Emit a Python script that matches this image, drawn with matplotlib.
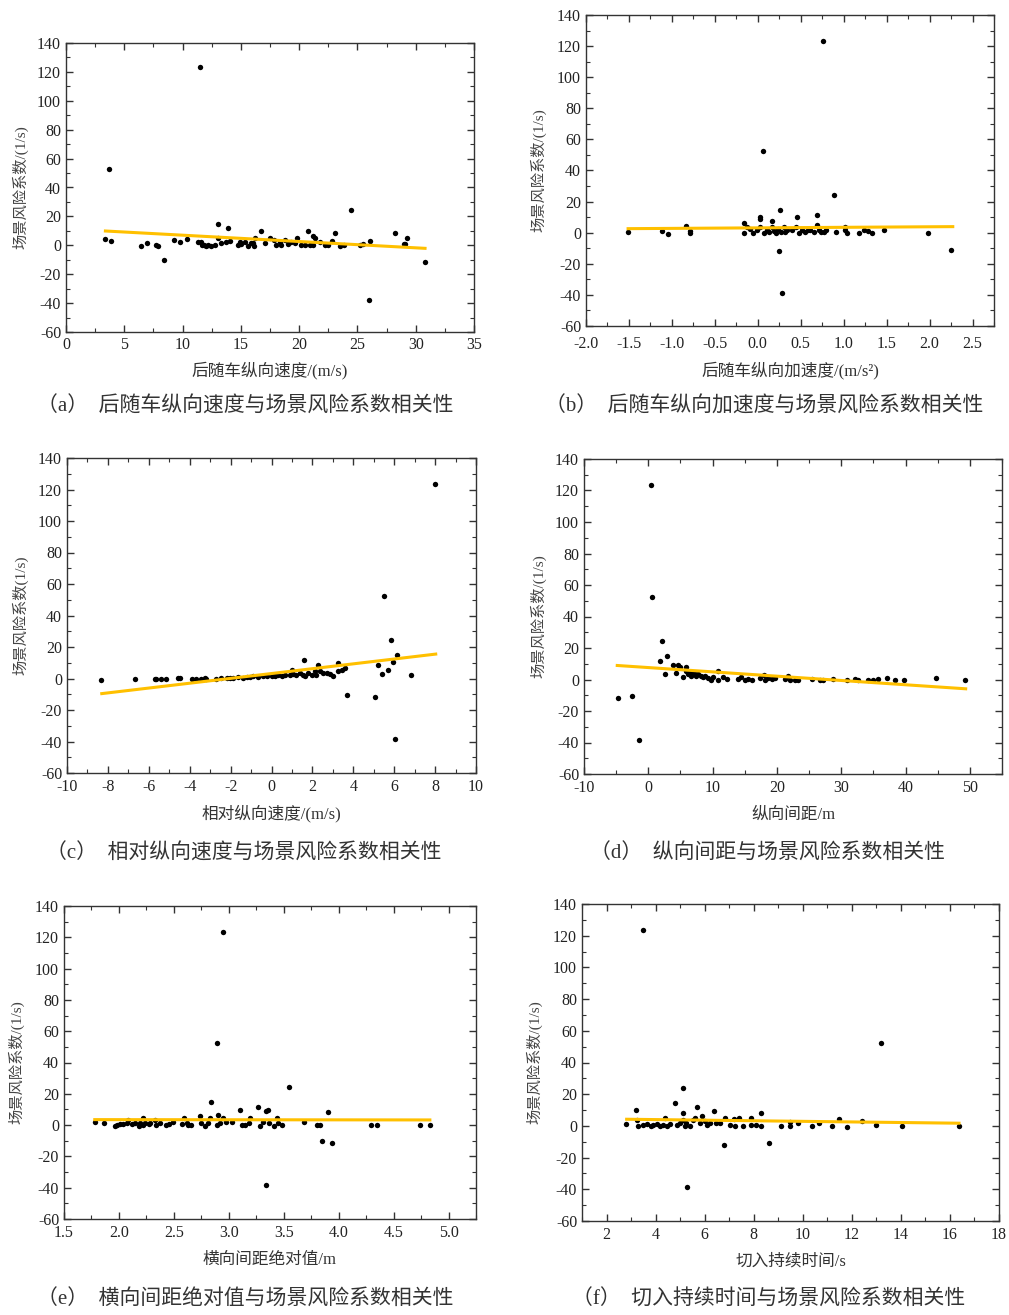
import matplotlib
matplotlib.use('Agg')
import matplotlib.pyplot as plt
from matplotlib.ticker import MultipleLocator

plt.rcParams['font.family'] = ['Liberation Serif', 'Noto Sans CJK SC']
plt.rcParams['axes.unicode_minus'] = False

# (a) 后随车纵向速度
xa = [3.38, 3.87, 3.7, 6.44, 6.92, 7.76, 7.87, 8.42, 9.3, 9.82, 10.4,
      11.3, 11.54, 11.5, 11.66, 11.8, 12.03, 12.2, 12.46, 12.75, 13.0, 13.03, 13.32, 13.75, 13.86, 14.03,
      14.75, 15.04, 14.9, 15.32, 15.61, 15.9, 16.18, 16.13, 16.0, 16.76,
      17.1, 17.47, 17.85, 18.05, 18.33, 18.48, 18.76, 19.05, 19.33, 19.62, 19.82, 20.2, 20.48, 20.77,
      20.9, 21.2, 21.34, 21.2, 21.77, 22.2, 22.49, 22.83, 23.06, 23.49, 23.86, 24.41, 25.21, 25.5,
      26.0, 26.1, 28.2, 29.08, 29.22, 29.0, 30.8]
ya = [4.1, 2.7, 52.5, -0.3, 1.4, 0.2, -0.5, -10.4, 3.7, 2.1, 4.6,
      2.5, 2.5, 123.5, 0.2, 0.5, -0.3, 0.3, -0.3, 0.2, 15.0, 4.8, 1.4, 2.05, 11.9, 3.0,
      0.2, 0.7, 2.0, 2.5, -0.3, 1.4, 4.8, -0.3, 1.8, 10.1,
      1.35, 4.8, 3.65, 0.2, 2.5, 0.2, 3.65, 0.66, 2.5, 1.35, 4.8, 0.2, 0.2, 9.9,
      0.3, 6.4, 4.8, 0.4, 2.5, 0.2, 0.2, 2.96, 8.3, -0.3, 0.2, 24.4, 0.2, 0.9,
      -37.8, 2.7, 8.3, 0.9, 5.3, 1.2, -11.3]
fit_ax = [3.38, 30.8]
fit_ay = [9.9, -2.1]

# (b) 后随车纵向加速度
xb = [-1.51, -1.12, -1.05, -0.83, -0.79, -0.79, -0.16, -0.16, -0.12, -0.09, -0.05, -0.01,
      0.03, 0.03, 0.03, 0.06, 0.07, 0.11, 0.13, 0.16, 0.17, 0.19, 0.21, 0.23, 0.26, 0.25, 0.28,
      0.27, 0.30, 0.32, 0.34, 0.40, 0.44, 0.46, 0.48, 0.52, 0.55, 0.58, 0.61, 0.65, 0.69, 0.69,
      0.71, 0.74, 0.76, 0.77, 0.79, 0.89, 0.91, 1.02, 1.02, 1.04, 1.18, 1.24, 1.28, 1.33, 1.47,
      1.98, 2.25]
yb = [0.2, 1.3, -0.6, 4.5, 1.3, -0.4, 6.4, -0.4, 3.9, 2.1, 0.0, 1.7,
      3.9, 8.6, 9.9, 52.3, 0.0, 1.7, 0.3, 7.7, 3.9, 1.0, 0.0, 2.1, 14.6, -12.0, -38.6,
      0.5, 3.9, 0.2, 1.7, 1.7, 3.9, 9.9, -0.4, 1.7, 0.4, 1.7, 1.7, 0.6, 11.4, 4.9,
      1.7, 0.3, 123.3, 0.6, 1.5, 24.0, 0.6, 3.9, 1.5, 0.0, 0.0, 1.7, 1.3, -0.4, 1.7,
      0.0, -11.0]
fit_bx = [-1.51, 2.27]
fit_by = [2.6, 3.9]

# (c) 相对纵向速度
xc = [-8.32, -6.69, -5.71, -5.63, -5.38, -5.14, -4.57, -4.49, -3.87, -3.67, -3.43, -3.26, -3.18,
      -2.69, -2.45, -2.2, -2.04, -1.88, -1.63, -1.39, -1.22, -1.06, -0.9, -0.65, -0.41, -0.24,
      0.0, 0.16, 0.33, 0.49, 0.65, 0.9, 0.98, 1.06, 1.22, 1.39, 1.55, 1.63, 1.58, 1.79, 1.96,
      2.12, 2.2, 2.28, 2.37, 2.53, 2.69, 2.85, 3.02, 3.23, 3.26, 3.43, 3.59, 3.67, 5.06, 5.22,
      5.42, 5.5, 5.68, 5.84, 5.92, 6.04, 6.15, 6.8, 7.99]
yc = [-0.9, -0.2, -0.2, -0.2, -0.4, 0.0, 0.2, 0.2, 0.0, 0.0, 0.0, 0.2, 0.0,
      0.0, 0.2, 0.4, 0.4, 0.2, 0.85, 0.4, 0.85, 0.85, 1.3, 0.85, 1.3, 1.7,
      1.3, 1.7, 2.1, 1.7, 2.1, 2.3, 5.1, 3.0, 2.3, 3.4, 2.3, 1.3, 11.9, 3.4, 2.3,
      4.5, 2.3, 8.3, 4.5, 3.4, 3.4, 3.0, 1.7, 9.8, 4.5, 5.5, 6.6, -10.4, -11.5, 8.5,
      3.0, 52.6, 5.5, 24.7, 10.2, -38.1, 15.1, 2.3, 123.4]
fit_cx = [-8.3, 8.03]
fit_cy = [-9.6, 15.5]

# (d) 纵向间距
xd = [-4.78, -2.55, -1.51, 0.36, 0.57, 1.82, 2.18, 2.55, 2.96, 3.84, 4.36, 4.62, 4.88, 5.4, 5.82,
      5.92, 6.18, 6.44, 6.7, 6.96, 7.22, 7.48, 7.74, 8.26, 8.52, 8.78, 9.3, 9.82, 10.08, 10.86,
      10.86, 11.64, 12.16, 13.97, 14.49, 15.01, 15.53, 16.05, 17.35, 18.03, 18.13, 18.65, 19.17,
      19.69, 21.25, 21.77, 22.03, 22.81, 23.32, 25.4, 26.7, 27.22, 28.78, 30.86, 32.16, 32.68,
      34.23, 35.01, 35.69, 37.19, 38.39, 39.79, 44.73, 49.19]
yd = [-11.6, -10.6, -38.1, 123.4, 52.5, 11.6, 24.3, 3.6, 14.8, 9.5, 4.2, 9.5, 8.0, 1.5, 8.0,
      5.3, 3.2, 4.2, 2.5, 3.2, 3.8, 2.1, 3.2, 2.1, 1.5, 2.1, 1.1, 0.0, 1.5, 5.3,
      0.0, 1.5, 0.6, 0.4, 1.5, 0.0, 0.4, 0.0, 1.1, 3.0, 0.0, 1.1, 0.4,
      1.1, 0.4, 2.5, -0.4, 0.0, 0.0, 0.6, 0.0, 0.0, 0.4, 0.0, 0.6, 0.0,
      0.0, 0.0, 0.6, 0.8, 0.0, 0.0, 0.8, 0.0]
fit_dx = [-4.83, 49.35]
fit_dy = [8.9, -5.9]

# (e) 横向间距绝对值
xe = [1.78, 1.86, 1.96, 1.98, 2.01, 2.04, 2.07, 2.08, 2.12, 2.15, 2.18, 2.19, 2.22, 2.22, 2.24,
      2.27, 2.28, 2.33, 2.34, 2.37, 2.43, 2.46, 2.49, 2.57, 2.59, 2.62, 2.63, 2.66, 2.74, 2.75,
      2.78, 2.81, 2.83, 2.84, 2.89, 2.89, 2.9, 2.92, 2.95, 2.95, 2.97, 3.03, 3.1, 3.12, 3.15,
      3.18, 3.19, 3.27, 3.28, 3.31, 3.34, 3.34, 3.36, 3.37, 3.41, 3.44, 3.45, 3.48, 3.55, 3.68,
      3.8, 3.83, 3.85, 3.9, 3.94, 4.29, 4.35, 4.74, 4.83]
ye = [1.7, 1.3, -0.4, 0.2, 0.6, 0.85, 1.3, 3.4, 0.85, 1.3, -0.4, 1.3, 4.5, 0.2, 1.3,
      0.85, 1.3, 3.4, 0.2, 1.3, 0.2, 0.85, 1.7, 0.85, 4.5, 1.3, 0.2, 0.2, 5.5, 1.3,
      -0.4, 1.3, 4.5, 14.5, 0.2, 52.3, 6.6, 1.3, 4.5, 123.2, 1.7, 1.7, 9.4, 0.2, 0.2,
      1.3, 4.5, 11.5, -0.4, 2.3, 8.7, -38.3, 9.8, 1.3, -0.4, 4.5, 1.3, 0.2, 24.3, 2.3,
      0.2, 0.2, -10.4, 8.1, -11.5, 0.0, 0.2, 0.2, 0.2]
fit_ex = [1.78, 4.83]
fit_ey = [3.5, 3.3]

# (f) 切入持续时间
xf = [2.8, 3.21, 3.23, 3.3, 3.5, 3.5, 3.67, 3.8, 3.91, 4.05, 4.18, 4.29, 4.38, 4.45, 4.59, 4.79,
      4.86, 5.0, 5.1, 5.1, 5.1, 5.2, 5.26, 5.29, 5.4, 5.51, 5.6, 5.7, 5.81, 5.91, 6.01, 6.08,
      6.21, 6.4, 6.48, 6.62, 6.82, 6.79, 7.02, 7.19, 7.23, 7.4, 7.56, 7.9, 7.9, 8.11, 8.31,
      8.31, 8.62, 9.12, 9.49, 9.49, 9.8, 10.38, 10.68, 11.19, 11.49, 11.79, 12.4, 12.98,
      13.18, 14.06, 16.36]
yf = [1.05, 10.1, 3.8, 0.2, 0.6, 123.4, 1.05, 0.0, 0.6, 1.05, 0.0, 0.6, 4.8, 0.2, 1.05, 14.7,
      0.6, 1.7, 8.0, 3.8, 24.2, 0.0, 2.1, -38.3, 0.0, 3.8, 4.8, 11.8, 1.7, 6.5, 3.4, 0.6,
      1.7, 9.7, 1.7, 2.1, 4.8, -11.8, 0.6, 4.2, 0.0, 4.8, 0.0, 4.8, 0.6, 0.6, 8.0,
      0.0, -10.5, 0.0, 2.7, 0.0, 2.1, 0.0, 1.7, 0.0, 4.6, -0.4, 3.4, 0.6,
      52.4, 0.0, 0.0]
fit_fx = [2.82, 16.37]
fit_fy = [4.2, 1.7]

W, H = 1009, 1315
fig = plt.figure(figsize=(W / 100, H / 100), dpi=100)
fig.patch.set_facecolor('white')


def px_axes(x0, x1, y0, y1):
    return fig.add_axes([x0 / W, 1 - y1 / H, (x1 - x0) / W, (y1 - y0) / H])


panels = [
    dict(box=(66, 474, 43, 332), x=xa, y=ya, fx=fit_ax, fy=fit_ay, xlim=(0, 35), major=5, minor=2.5,
         fmt='{:.0f}', xlabel='后随车纵向速度/(m/s)', ylabel='场景风险系数/(1/s)',
         ylc=-0.093, xlc=-0.103, xpad=3.5,
         cap='（a）  后随车纵向速度与场景风险系数相关性', cap_xy=(245, 407)),
    dict(box=(586, 994, 15, 326), x=xb, y=yb, fx=fit_bx, fy=fit_by, xlim=(-2.0, 2.75), major=0.5, minor=0.25,
         fmt='{:.1f}', xlabel='后随车纵向加速度/(m/s²)', ylabel='场景风险系数/(1/s)',
         ylc=-0.096, xlc=-0.115, xpad=7,
         cap='（b）  后随车纵向加速度与场景风险系数相关性', cap_xy=(764, 407)),
    dict(box=(67, 476, 458, 773), x=xc, y=yc, fx=fit_cx, fy=fit_cy, xlim=(-10, 10), major=2, minor=1,
         fmt='{:.0f}', xlabel='相对纵向速度/(m/s)', ylabel='场景风险系数(1/s)',
         ylc=-0.093, xlc=-0.101, xpad=4.5,
         cap='（c）  相对纵向速度与场景风险系数相关性', cap_xy=(244, 854)),
    dict(box=(584, 1002, 459, 774), x=xd, y=yd, fx=fit_dx, fy=fit_dy, xlim=(-10, 55), major=10, minor=5,
         fmt='{:.0f}', xlabel='纵向间距/m', ylabel='场景风险系数/(1/s)',
         ylc=-0.089, xlc=-0.104, xpad=4.5,
         cap='（d）  纵向间距与场景风险系数相关性', cap_xy=(768, 854)),
    dict(box=(64, 476, 906, 1219), x=xe, y=ye, fx=fit_ex, fy=fit_ey, xlim=(1.5, 5.25), major=0.5, minor=0.25,
         fmt='{:.1f}', xlabel='横向间距绝对值/m', ylabel='场景风险系数/(1/s)',
         ylc=-0.095, xlc=-0.105, xpad=4.5,
         cap='（e）  横向间距绝对值与场景风险系数相关性', cap_xy=(245, 1300)),
    dict(box=(582, 999, 904, 1221), x=xf, y=yf, fx=fit_fx, fy=fit_fy, xlim=(1, 18), major=2, minor=1,
         fmt='{:.0f}', xlabel='切入持续时间/s', ylabel='场景风险系数/(1/s)',
         ylc=-0.094, xlc=-0.103, xpad=4.5,
         cap='（f）  切入持续时间与场景风险系数相关性', cap_xy=(769, 1300)),
]

for p in panels:
    ax = px_axes(*p['box'])
    ax.scatter(p['x'], p['y'], s=15, color='black', zorder=3, linewidths=0)
    ax.plot(p['fx'], p['fy'], color='#FFC000', lw=2.2, zorder=4)
    ax.set_xlim(*p['xlim'])
    ax.set_ylim(-60, 140)
    ax.xaxis.set_major_locator(MultipleLocator(p['major']))
    ax.xaxis.set_minor_locator(MultipleLocator(p['minor']))
    ax.yaxis.set_major_locator(MultipleLocator(20))
    ax.yaxis.set_minor_locator(MultipleLocator(10))
    ticks = [t for t in ax.get_xticks() if p['xlim'][0] - 1e-9 <= t <= p['xlim'][1] + 1e-9]
    ax.set_xticks(ticks)
    ax.set_xticklabels([p['fmt'].format(t) for t in ticks])
    ax.tick_params(which='both', direction='in', top=True, right=True, colors='#333333',
                   labelsize=11.5, labelcolor='#222222')
    ax.tick_params(which='major', length=5, width=1.0)
    ax.tick_params(which='minor', length=3, width=0.8)
    ax.tick_params(axis='x', which='major', pad=p['xpad'])
    for s in ax.spines.values():
        s.set_color('#333333')
        s.set_linewidth(1.0)
    ax.set_xlabel(p['xlabel'], fontsize=12, color='#333333')
    ax.set_ylabel(p['ylabel'], fontsize=11, color='#444444')
    ax.yaxis.set_label_coords(p['ylc'], 0.5)
    ax.xaxis.set_label_coords(0.5, p['xlc'])
    cx, cy = p['cap_xy']
    fig.text(cx / W, 1 - cy / H, p['cap'], fontsize=15, color='#333333', ha='center', va='center')

fig.savefig('out.png', dpi=100)
